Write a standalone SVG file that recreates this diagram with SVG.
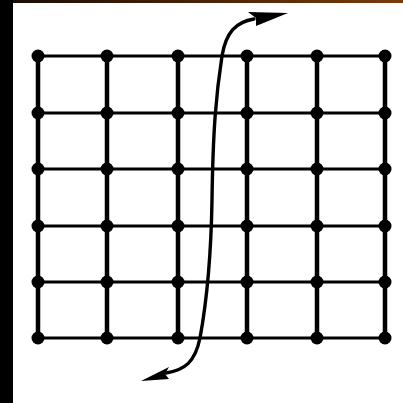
<svg xmlns="http://www.w3.org/2000/svg" width="403" height="403" viewBox="0 0 403 403">
<defs>
<linearGradient id="tg" x1="0" x2="1" y1="0" y2="0">
<stop offset="0" stop-color="#1a0d04"/>
<stop offset="1" stop-color="#7a3c0c"/>
</linearGradient>
<style>
.h{stroke:#000;stroke-width:3.2}
.v{stroke:#000;stroke-width:4.5}
.d{fill:#000}
.c{fill:none;stroke:#000;stroke-width:3.4;stroke-linecap:round}
</style>
</defs>
<rect width="403" height="403" fill="#fff"/>
<rect x="0" y="0" width="13" height="403" fill="#000"/>
<rect x="13" y="0" width="390" height="3" fill="url(#tg)"/>
<g id="grid">
<line class="h" x1="38" y1="56" x2="385" y2="56"/>
<line class="h" x1="38" y1="113" x2="385" y2="113"/>
<line class="h" x1="38" y1="169" x2="385" y2="169"/>
<line class="h" x1="38" y1="226" x2="385" y2="226"/>
<line class="h" x1="38" y1="282" x2="385" y2="282"/>
<line class="h" x1="38" y1="338" x2="385" y2="338"/>
<line class="v" x1="38" y1="56" x2="38" y2="338"/>
<line class="v" x1="107" y1="56" x2="107" y2="338"/>
<line class="v" x1="178" y1="56" x2="178" y2="338"/>
<line class="v" x1="247" y1="56" x2="247" y2="338"/>
<line class="v" x1="317" y1="56" x2="317" y2="338"/>
<line class="v" x1="385" y1="56" x2="385" y2="338"/>
</g>
<g id="nodes">
<g id="r1"><circle class="d" cx="38" cy="56" r="6.5"/><circle class="d" cx="107" cy="56" r="6.5"/><circle class="d" cx="178" cy="56" r="6.5"/><circle class="d" cx="247" cy="56" r="6.5"/><circle class="d" cx="317" cy="56" r="6.5"/><circle class="d" cx="385" cy="56" r="6.5"/></g>
<g id="r2"><circle class="d" cx="38" cy="113" r="6.5"/><circle class="d" cx="107" cy="113" r="6.5"/><circle class="d" cx="178" cy="113" r="6.5"/><circle class="d" cx="247" cy="113" r="6.5"/><circle class="d" cx="317" cy="113" r="6.5"/><circle class="d" cx="385" cy="113" r="6.5"/></g>
<g id="r3"><circle class="d" cx="38" cy="169" r="6.5"/><circle class="d" cx="107" cy="169" r="6.5"/><circle class="d" cx="178" cy="169" r="6.5"/><circle class="d" cx="247" cy="169" r="6.5"/><circle class="d" cx="317" cy="169" r="6.5"/><circle class="d" cx="385" cy="169" r="6.5"/></g>
<g id="r4"><circle class="d" cx="38" cy="226" r="6.5"/><circle class="d" cx="107" cy="226" r="6.5"/><circle class="d" cx="178" cy="226" r="6.5"/><circle class="d" cx="247" cy="226" r="6.5"/><circle class="d" cx="317" cy="226" r="6.5"/><circle class="d" cx="385" cy="226" r="6.5"/></g>
<g id="r5"><circle class="d" cx="38" cy="282" r="6.5"/><circle class="d" cx="107" cy="282" r="6.5"/><circle class="d" cx="178" cy="282" r="6.5"/><circle class="d" cx="247" cy="282" r="6.5"/><circle class="d" cx="317" cy="282" r="6.5"/><circle class="d" cx="385" cy="282" r="6.5"/></g>
<g id="r6"><circle class="d" cx="38" cy="338" r="6.5"/><circle class="d" cx="107" cy="338" r="6.5"/><circle class="d" cx="178" cy="338" r="6.5"/><circle class="d" cx="247" cy="338" r="6.5"/><circle class="d" cx="317" cy="338" r="6.5"/><circle class="d" cx="385" cy="338" r="6.5"/></g>
</g>
<g id="connectors">
<path class="c" d="M254,19 C236,22 226,32 222,56 C216,95 213,130 212,200 C211,260 207,300 200,338 C195,362 185,370 166,373"/>
<path class="d" d="M288,13 L248,12 L256,18 L256,26 Z"/>
<path class="d" d="M141,381 L169,367 L165,374 L169,379 Z"/>
</g>
</svg>
